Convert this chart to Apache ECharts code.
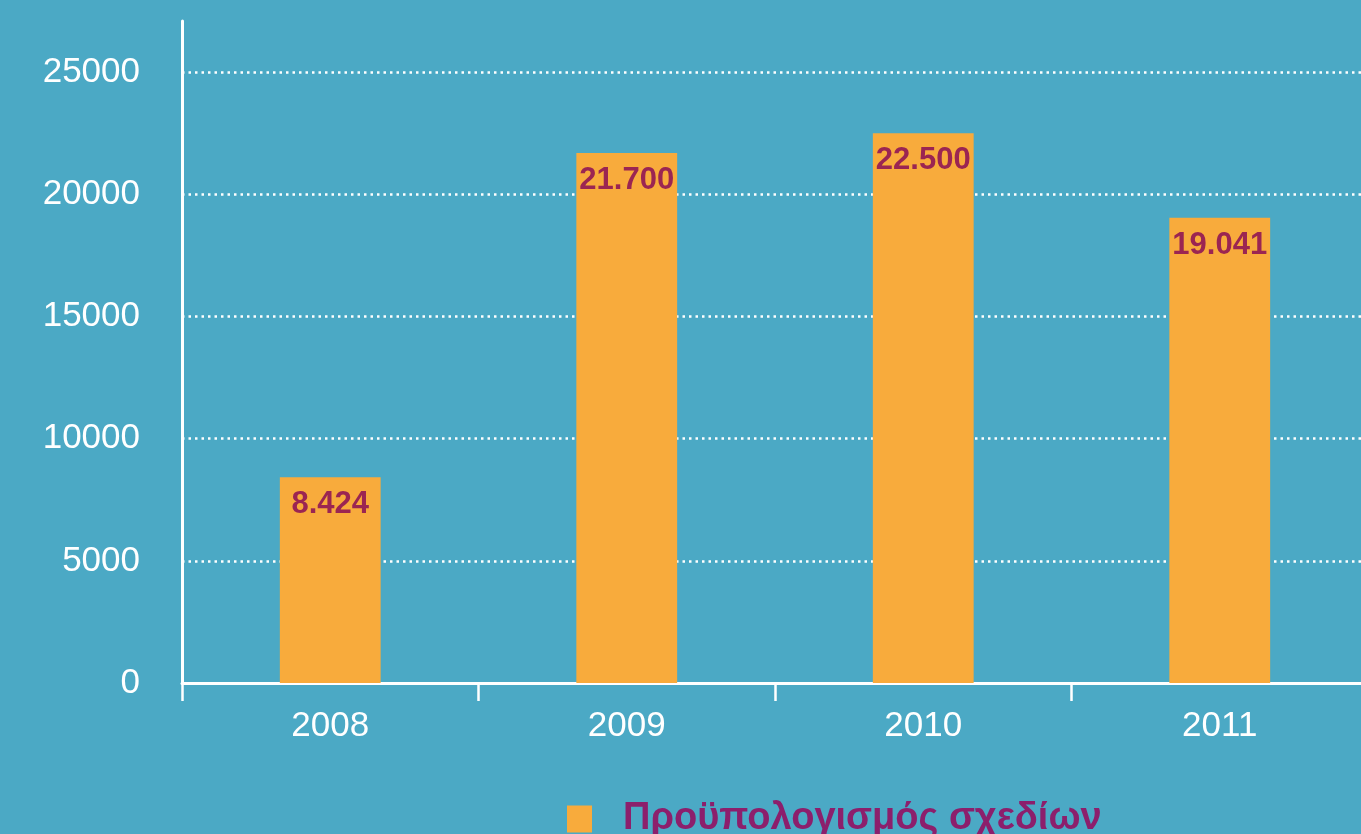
<!DOCTYPE html>
<html>
<head>
<meta charset="utf-8">
<script src="https://cdn.jsdelivr.net/npm/echarts@6/dist/echarts.min.js"></script>
<style>
html,body{margin:0;padding:0;background:#4ba9c5;overflow:hidden;}
#c{width:1368px;height:834px;}
</style>
</head>
<body>
<div id="c"></div>
<script>
const categories = ['2008', '2009', '2010', '2011'];
const budgetValues = [8424, 21700, 22500, 19041];
const seriesName = 'Προϋπολογισμός σχεδίων';
const yTickLabels = [0, 5000, 10000, 15000, 20000, 25000];

function fmt(v) {
  return String(v).replace(/\B(?=(\d{3})+(?!\d))/g, '.');
}

const chart = echarts.init(document.getElementById('c'));
chart.setOption({
  backgroundColor: '#4ba9c5',
  animation: false,
  textStyle: { fontFamily: 'Liberation Sans, Arial, sans-serif' },
  grid: { left: 182, right: 0, top: 21, bottom: 151, containLabel: false },
  legend: {
    data: [seriesName],
    left: 567,
    top: 800,
    padding: 0,
    itemWidth: 25,
    itemHeight: 27,
    itemGap: 10,
    icon: 'rect',
    textStyle: { color: '#8c1f6c', fontSize: 38, fontWeight: 'bold', padding: [0, 0, 0, 26] }
  },
  xAxis: {
    type: 'category',
    data: categories,
    boundaryGap: true,
    axisLine: { show: true, lineStyle: { color: '#ffffff', width: 3 } },
    axisTick: { show: true, length: 18, lineStyle: { color: '#ffffff', width: 2.5 } },
    axisLabel: { color: '#ffffff', fontSize: 35, margin: 26 },
    splitLine: { show: false }
  },
  yAxis: {
    type: 'value',
    min: 0,
    max: 27100,
    interval: 5000,
    axisLine: { show: true, lineStyle: { color: '#ffffff', width: 3 } },
    axisTick: { show: false },
    axisLabel: {
      color: '#ffffff', fontSize: 35, margin: 42, showMaxLabel: false,
      formatter: function (v) { return yTickLabels.indexOf(v) >= 0 ? String(v) : ''; }
    },
    splitLine: {
      show: true,
      lineStyle: {
        color: ['rgba(0,0,0,0)', '#ffffff', '#ffffff', '#ffffff', '#ffffff', '#ffffff', 'rgba(0,0,0,0)'],
        width: 2.5,
        type: [2.5, 4]
      }
    }
  },
  series: [{
    name: seriesName,
    type: 'bar',
    data: budgetValues,
    barWidth: '34%',
    itemStyle: { color: '#f8ab3c' },
    label: {
      show: true,
      position: 'insideTop',
      distance: 12,
      color: '#9b2552',
      fontSize: 31,
      fontWeight: 'bold',
      formatter: function (p) { return fmt(p.value); }
    }
  }]
});
</script>
</body>
</html>
